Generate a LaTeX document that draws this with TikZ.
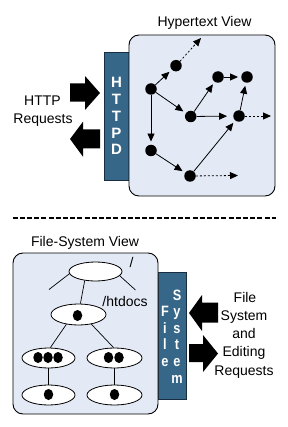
\documentclass[tikz,border=0pt]{standalone}
\usepackage{fontspec}
\setmainfont{Liberation Sans}
\usetikzlibrary{arrows.meta,shapes.geometric}
\definecolor{boxfill}{RGB}{228,234,245}
\definecolor{barfill}{RGB}{54,102,136}
\definecolor{barline}{RGB}{25,45,65}
\newcommand{\narrowltr}[1]{\scalebox{0.85}[1]{#1}}
\begin{document}
\begin{tikzpicture}[x=1pt,y=-1pt,
  lbl/.style={font=\fontsize{14}{16}\selectfont, inner sep=0pt, anchor=base},
  barletter/.style={font=\fontsize{15}{17}\selectfont\bfseries, text=white, inner sep=0pt, anchor=base},
  viewbox/.style={draw=black, line width=0.9pt, fill=boxfill, rounded corners=10pt, inner sep=0pt},
  sidebar/.style={draw=barline, line width=0.8pt, fill=barfill, inner sep=0pt},
  dot/.style={circle, fill=black, inner sep=0pt, minimum size=11.5pt},
  link/.style={line width=0.8pt, -{Triangle[length=8pt,width=7pt]}, shorten >=3pt},
  outlink/.style={link, dash pattern=on 2pt off 2pt},
  bigarrow/.style={fill=black},
  folder/.style={ellipse, draw, line width=0.8pt, fill=white, inner sep=0pt},
  fdot/.style={ellipse, fill=black, inner sep=0pt, minimum width=9.5pt, minimum height=11pt},
  treeline/.style={line width=0.7pt}
]
\useasboundingbox (0,0) rectangle (288,427);

% ---------- top half ----------
\node[lbl] (htitle) at (204.5,27) {Hypertext View};
\node[sidebar, minimum width=25.5pt, minimum height=128pt] (httpd) at (116.75,116) {};
\node[viewbox, minimum width=146pt, minimum height=161pt] (hbox) at (202,115.5) {};
\node[barletter] (h1) at (116.5,88) {H};
\node[barletter] (h2) at (116.5,104.7) {T};
\node[barletter] (h3) at (116.5,121.4) {T};
\node[barletter] (h4) at (116.5,138.1) {P};
\node[barletter] (h5) at (116.5,154.8) {D};

\fill[bigarrow] (70,83.3) -- (85,83.3) -- (85,76) -- (100,93) -- (85,110) -- (85,101.7) -- (70,101.7) -- cycle;
\fill[bigarrow] (100,129.3) -- (83,129.3) -- (83,121.7) -- (70,139) -- (83,156.7) -- (83,148.3) -- (100,148.3) -- cycle;
\node[lbl] (http1) at (42.5,106) {HTTP};
\node[lbl] (http2) at (43,124) {Requests};

\node[dot] (a) at (151,89) {};
\node[dot] (b) at (176,65.7) {};
\node[dot] (c) at (218,77) {};
\node[dot] (d) at (247,77) {};
\node[dot] (e) at (190.7,116.5) {};
\node[dot] (f) at (239,116) {};
\node[dot] (g) at (151,150.5) {};
\node[dot] (h) at (190,176) {};
\coordinate (bout) at (201,38);
\coordinate (fout) at (271,116);
\coordinate (hout) at (238,175.5);

\draw[link] (a) -- (b);
\draw[link] (a) -- (e);
\draw[link] (a) -- (g);
\draw[link] (e) -- (c);
\draw[link] (c) -- (d);
\draw[link, shorten >=6pt] (e) -- (f);
\draw[link] (f) -- (d);
\draw[link] (g) -- (h);
\draw[link] (h) -- (f);
\draw[outlink, shorten >=0pt] (b) -- (bout);
\draw[outlink, shorten >=0pt] (f) -- (fout);
\draw[outlink, shorten >=0pt] (h) -- (hout);

% ---------- separator ----------
\coordinate (sepL) at (12.5,218);
\coordinate (sepR) at (276,218);
\draw[line width=1.2pt, dash pattern=on 5pt off 2.2pt] (sepL) -- (sepR);

% ---------- bottom half ----------
\node[lbl] (ftitle) at (85,246) {File-System View};
\node[sidebar, minimum width=28pt, minimum height=127pt] (fsbar) at (172,335.5) {};
\node[viewbox, minimum width=145pt, minimum height=161pt] (fbox) at (85.5,333.5) {};

\node[barletter] (s1) at (177,300) {\narrowltr{S}};
\node[barletter] (s2) at (177,316.6) {\narrowltr{y}};
\node[barletter] (s3) at (177,333.2) {\narrowltr{s}};
\node[barletter] (s4) at (177,349.8) {\narrowltr{t}};
\node[barletter] (s5) at (177,366.4) {\narrowltr{e}};
\node[barletter] (s6) at (177,383) {\narrowltr{m}};
\node[barletter] (f1) at (165,316.6) {\narrowltr{F}};
\node[barletter] (f2) at (165,333.2) {\narrowltr{i}};
\node[barletter] (f3) at (165,349.8) {\narrowltr{l}};
\node[barletter] (f4) at (165,366.4) {\narrowltr{e}};

\fill[bigarrow] (218,302.7) -- (202,302.7) -- (202,295) -- (189,313) -- (202,331) -- (202,322.7) -- (218,322.7) -- cycle;
\fill[bigarrow] (189,344) -- (203,344) -- (203,335) -- (218,353.5) -- (203,372) -- (203,362) -- (189,362) -- cycle;
\node[lbl] (r1) at (245,302) {File};
\node[lbl] (r2) at (244,320.3) {System};
\node[lbl] (r3) at (244,338.6) {and};
\node[lbl] (r4) at (244,356.9) {Editing};
\node[lbl] (r5) at (244,375.2) {Requests};

% tree
\node[folder, minimum width=53pt, minimum height=19pt] (root) at (95.5,271.5) {};
\node[folder, minimum width=55pt, minimum height=21pt] (mid) at (78.5,314.5) {};
\node[folder, minimum width=53pt, minimum height=20pt] (lch) at (48.5,358) {};
\node[folder, minimum width=55pt, minimum height=20pt] (rch) at (114.5,358) {};
\node[folder, minimum width=53pt, minimum height=20pt] (lleaf) at (48.5,395) {};
\node[folder, minimum width=55pt, minimum height=20pt] (rleaf) at (114.5,395) {};
\node[fdot] (mdot) at (77.5,315.5) {};
\node[fdot] (ld1) at (38,357.5) {};
\node[fdot] (ld2) at (48,357.5) {};
\node[fdot] (ld3) at (58,357.5) {};
\node[fdot] (rd1) at (108.5,357.5) {};
\node[fdot] (rd2) at (119,357.5) {};
\node[fdot] (lld) at (48.5,394.5) {};
\node[fdot] (rld) at (114.5,394.5) {};
\coordinate (stubL) at (49,289.5);
\coordinate (stubR) at (135.5,290);
\node[lbl] (slash) at (131.5,267) {/};
\node[lbl] (htdocs) at (125,306) {/htdocs};

\draw[treeline] (root.185) -- (stubL);
\draw[treeline] (root.-10) -- (stubR);
\draw[treeline] (root.-140) -- (mid.80);
\draw[treeline] (mid.219) -- (lch.80);
\draw[treeline] (mid.-37) -- (rch.95);
\draw[treeline] (lch.south) -- (lleaf.north);
\draw[treeline] (rch.south) -- (rleaf.north);
\end{tikzpicture}
\end{document}
